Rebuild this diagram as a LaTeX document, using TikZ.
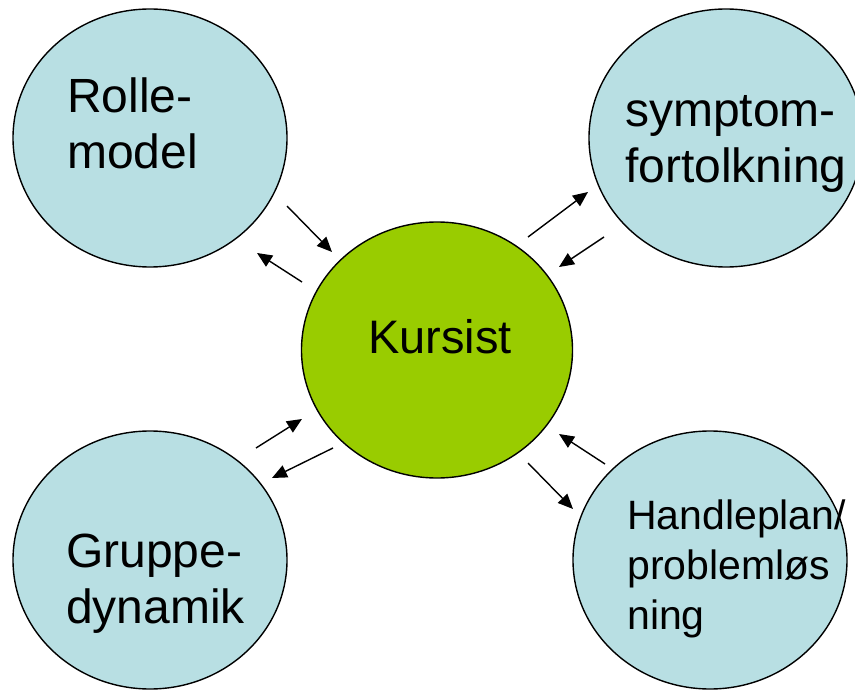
\documentclass[tikz,border=0pt]{standalone}
\usepackage{fontspec}
\setmainfont{Liberation Sans}
\usetikzlibrary{shapes.geometric}
\usetikzlibrary{arrows.meta}
\definecolor{lyseblaa}{RGB}{184,223,227}
\definecolor{groen}{RGB}{153,204,0}

\begin{document}
\begin{tikzpicture}[x=1pt,y=-1pt]
        \tikzstyle{boble} = [ellipse, draw, line width=1.4pt, minimum width=274pt, minimum height=258pt, inner sep=0pt, fill=lyseblaa]
        \tikzstyle{tekst} = [anchor=base west, align=left, inner sep=0pt, font=\fontsize{48}{56}\selectfont]
        \tikzstyle{pil} = [-{Triangle[length=15pt,width=13pt]}, line width=1.4pt]
        \useasboundingbox (0,0) rectangle (855,690);
        \clip (0,0) rectangle (855,690);

        \node[boble] (rolle) at (150,138) {};
        \node[boble] (symptom) at (726,138) {};
        \node[boble] (gruppe) at (150,560) {};
        \node[boble] (handle) at (710,560) {};
        \node[boble, fill=groen, minimum width=271pt, minimum height=256pt] (kursist) at (437,350) {};

        % base er sidste linjes grundlinje
        \node[tekst] (rolletekst) at (67,169) {Rolle-\\model};
        \node[tekst] (symptomtekst) at (625,183) {symptom-\\fortolkning};
        \node[tekst] (gruppetekst) at (66,623) {Gruppe-\\dynamik};
        \node[tekst, font=\fontsize{41}{50}\selectfont] (handletekst) at (627,629) {Handleplan/\\problemløs\\ning};
        \node[tekst, anchor=base, font=\fontsize{47}{56}\selectfont] (kursisttekst) at (440,353) {Kursist};

        % pilene mellem boblerne
        \foreach \n/\x/\y in {a1/287/206, a2/332/252, b1/302/282, b2/257/253,
                              c1/528/237, c2/588/192, d1/604/237, d2/559/267,
                              e1/333/448, e2/272/478, f1/256/448, f2/302/419,
                              g1/605/464, g2/559/434, h1/528/463, h2/573/509}
        {
                \coordinate (\n) at (\x,\y);
        }
        \foreach \s/\t in {a1/a2, b1/b2, c1/c2, d1/d2, e1/e2, f1/f2, g1/g2, h1/h2}
        {
                \draw[pil] (\s) -- (\t);
        }
\end{tikzpicture}
\end{document}
